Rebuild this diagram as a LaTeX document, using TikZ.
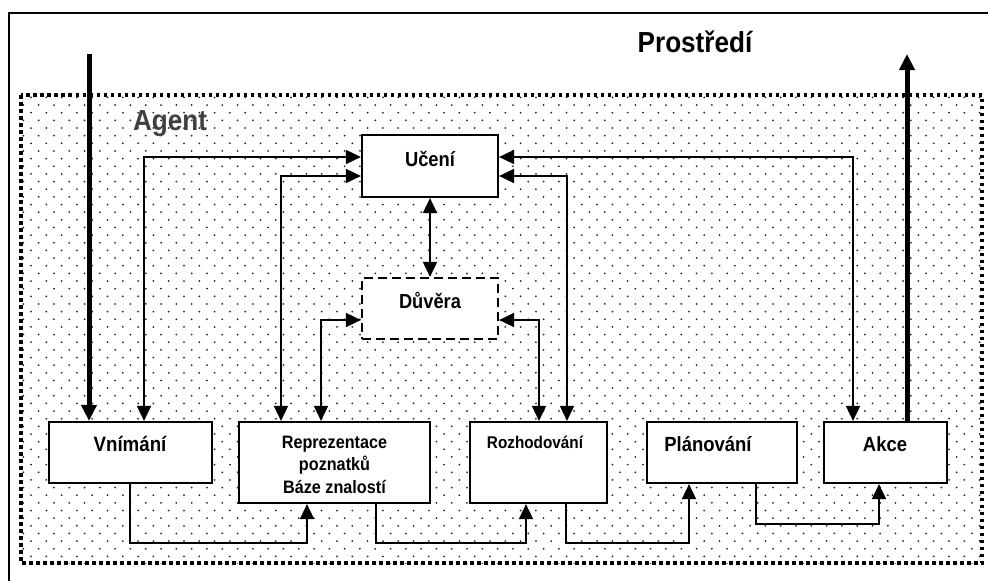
\documentclass[tikz,border=0pt]{standalone}
\usepackage{fontspec}
\setmainfont{Liberation Sans}
\usepackage{graphicx}
\usetikzlibrary{arrows.meta}
% slightly condensed bold lettering
\newcommand\sq[1]{\scalebox{0.9}[1]{#1}}
\newcommand\fs[1]{\fontsize{#1}{#1}\selectfont\bfseries}
\begin{document}
\begin{tikzpicture}[x=1pt,y=-1pt,
  box/.style={draw, line width=2.2pt, fill=white, inner sep=0pt},
  dashbox/.style={box, dash pattern=on 9pt off 5pt},
  lbl/.style={anchor=base, inner sep=0pt, align=center},
  conn/.style={line width=1.8pt, arrows={-Triangle[length=15pt,width=14pt]}},
  both/.style={line width=1.8pt, arrows={Triangle[length=15pt,width=14pt]-Triangle[length=15pt,width=14pt]}},
  io/.style={line width=5pt, arrows={-Triangle[length=16pt,width=15pt]}},
  agentframe/.style={line width=3.2pt, dash pattern=on 3.5pt off 3.5pt}]
\useasboundingbox (0,0) rectangle (988,581);
\clip (0,0) rectangle (988,581);
\fill[white] (0,0) rectangle (988,581);

% environment frame
\draw[line width=2pt] (9,13) rectangle (1000,600);

% agent area with dotted background
\begin{scope}
  \clip (21,95) rectangle (982,563);
  \foreach \r in {0,...,62} {
    \foreach \c in {0,...,64} {
      \fill[black!85] ({31+15.3*\c-7.65*mod(\r,2)}, {97.4+7.65*\r}) circle (1.0);
    }
  }
\end{scope}
\draw[agentframe] (21,95) rectangle (982,563);

% titles
\node[lbl, text=black] (env) at (695,52) {\fs{29}\sq{Prostředí}};
\node[lbl, text=black!75] (agent) at (170,130.7) {\fs{29}\sq{Agent}};

% modules
\node[box, minimum width=136pt, minimum height=62pt] (uc) at (430,166) {};
\node[dashbox, minimum width=136pt, minimum height=61pt] (du) at (430,308.5) {};
\node[box, minimum width=163pt, minimum height=61pt] (vn) at (130.5,452.5) {};
\node[box, minimum width=191pt, minimum height=81pt] (rp) at (334.5,462.5) {};
\node[box, minimum width=137pt, minimum height=81pt] (rz) at (538.5,462.5) {};
\node[box, minimum width=150pt, minimum height=61pt] (pl) at (722,452.5) {};
\node[box, minimum width=123pt, minimum height=61pt] (ak) at (885.5,452.5) {};

\node[lbl] (ucl) at (430,166.7) {\fs{20.4}\sq{Učení}};
\node[lbl] (dul) at (430,308.3) {\fs{20.3}\sq{Důvěra}};
\node[lbl] (vnl) at (130,451.7) {\fs{20.8}\sq{Vnímání}};
\node[lbl, font=\fontsize{18}{22.5}\selectfont\bfseries] (rpl) at (334.5,493)
  {\sq{Reprezentace}\\\sq{poznatků}\\\sq{Báze znalostí}};
\node[lbl] (rzl) at (535,448) {\fs{17}\sq{Rozhodování}};
\node[lbl] (pll) at (708,451.7) {\fs{20.5}\sq{Plánování}};
\node[lbl] (akl) at (885,451.7) {\fs{20.5}\sq{Akce}};

% perception input and action output
\coordinate (envin) at (89,54);
\coordinate (envout) at (907,54);
\draw[io] (envin) -- (vn.north -| envin);
\draw[io] (ak.north -| envout) -- (envout);

% links with the learning module
\draw[both] (uc.west |- 0,157) -| (vn.north -| 144,0);
\draw[both] (uc.west |- 0,176) -| (rp.north -| 281,0);
\draw[both] (uc.east |- 0,176) -| (rz.north -| 567,0);
\draw[both] (uc.east |- 0,157) -| (ak.north -| 853,0);
\draw[both] (uc.south) -- (du.north);

% links with the trust module
\draw[both] (du.west |- 0,320) -| (rp.north -| 321,0);
\draw[both] (du.east |- 0,320) -| (rz.north -| 539,0);

% processing chain
\draw[conn] (vn.south -| 130,0) -- (130,543) -| (rp.south -| 307,0);
\draw[conn] (rp.south -| 376,0) -- (376,543) -| (rz.south -| 526,0);
\draw[conn] (rz.south -| 566,0) -- (566,543) -| (pl.south -| 689,0);
\draw[conn] (pl.south -| 756,0) -- (756,524) -| (ak.south -| 879,0);
\end{tikzpicture}
\end{document}
